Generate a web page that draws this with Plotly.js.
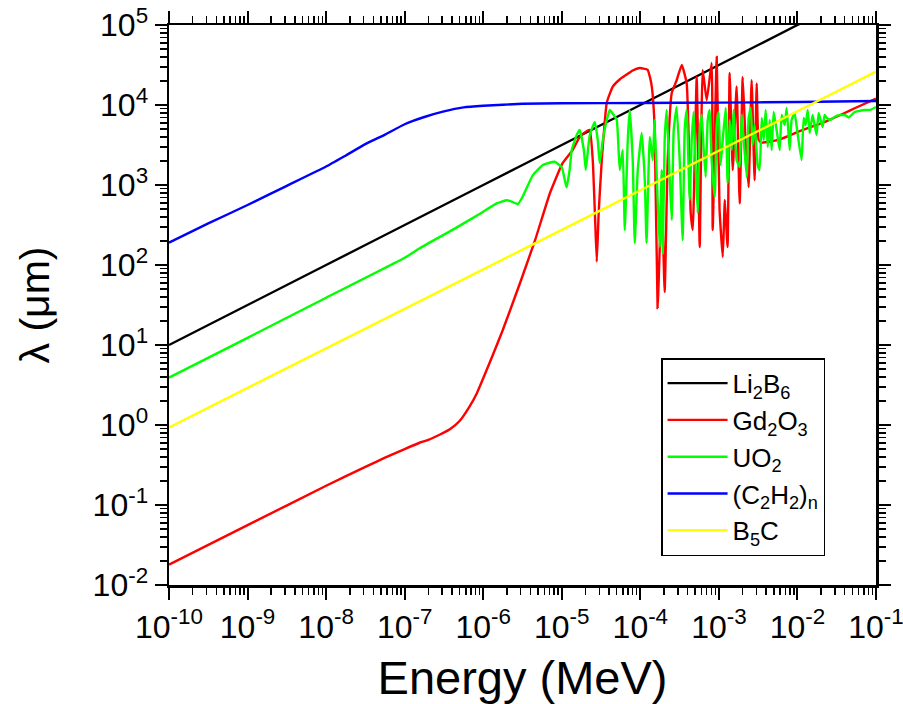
<!DOCTYPE html>
<html>
<head>
<meta charset="utf-8">
<script src="https://cdn.plot.ly/plotly-3.0.1.min.js"></script>
<style>html,body{margin:0;padding:0;background:#fff;}#chart{width:903px;height:704px;}</style>
</head>
<body>
<div id="chart"></div>
<script>
// ---- data (Energy in MeV, lambda in micrometres) ----
const seriesNames = ['Li<sub>2</sub>B<sub>6</sub>', 'Gd<sub>2</sub>O<sub>3</sub>', 'UO<sub>2</sub>', '(C<sub>2</sub>H<sub>2</sub>)<sub>n</sub>', 'B<sub>5</sub>C'];
const seriesColors = ['#000000', '#ff0000', '#00ff00', '#0000ff', '#ffff00'];

const li2b6E = [1e-10, 1e-9, 1e-8, 1e-7, 1e-6, 1e-5, 1e-4, 1e-3, 1e-2, 1e-1];
const li2b6L = [10, 31.6, 100, 316, 1000, 3160, 10000, 31600, 100000, 316000];

const gd2o3E = [1e-10, 1e-9, 1e-8, 3.16e-8, 5.62e-8, 1e-7, 1.55e-7, 2.0e-7, 2.82e-7, 3.8e-7, 5.0e-7, 6.6e-7, 8.3e-7, 1.2e-6, 1.78e-6, 2.95e-6, 4.57e-6, 7.08e-6, 1.02e-5, 1.38e-5,
  1.69e-5, 2.0e-5, 2.27e-5, 2.48e-5, 2.65e-5, 2.79e-5, 2.95e-5, 3.23e-5, 3.74e-5, 4.46e-5, 5.5e-5, 6.71e-5, 8.0e-5, 9.82e-5, 1.1e-4, 1.24e-4, 1.33e-4, 1.40e-4, 1.52e-4, 1.66e-4, 1.87e-4, 2.04e-4, 2.23e-4,
  2.51e-4, 2.90e-4, 3.37e-4, 3.89e-4, 4.38e-4, 4.65e-4, 5.22e-4, 5.70e-4, 6.22e-4, 7.0e-4, 8.09e-4, 8.34e-4, 9.38e-4, 1.02e-3, 1.12e-3, 1.19e-3,
  1.29e-3, 1.37e-3, 1.50e-3, 1.68e-3, 1.84e-3, 2.01e-3, 2.2e-3, 2.39e-3, 2.61e-3, 2.85e-3, 3.03e-3, 3.21e-3, 3.5e-3, 5.94e-3, 1.07e-2, 2.36e-2,
  3.99e-2, 5.35e-2, 1e-1];
const gd2o3L = [0.018, 0.056, 0.174, 0.30, 0.39, 0.50, 0.60, 0.65, 0.76, 0.89, 1.12, 1.66, 2.5, 5.9, 15.5, 60, 204, 794, 1860, 2750,
  3980, 4600, 4870, 2050, 400, 110, 450, 2050, 10700, 17000, 21000, 24000, 27000, 29000, 28500, 27500, 22000, 17000, 5370, 29, 794, 46, 2050,
  14100, 20400, 31600, 18600, 447, 274, 22400, 168, 27500, 11500, 33500, 274, 40000, 490, 126, 649,
  168, 25100, 1540, 17000, 589, 22400, 3000, 944, 20400, 1150, 18600, 3650, 3390, 3700, 4700, 6300,
  7940, 9100, 12000];

const uo2E = [1e-10, 1e-9, 1e-8, 1e-7, 1.55e-7, 4.07e-7, 9.1e-7, 1.48e-6, 2.0e-6, 2.34e-6, 2.75e-6, 3.16e-6, 4.27e-6, 5.75e-6, 8.1e-6, 1.0e-5, 1.15e-5, 1.26e-5,
  1.34e-5, 1.55e-5, 1.69e-5, 1.91e-5, 2.02e-5, 2.27e-5, 2.63e-5, 2.87e-5, 3.04e-5, 3.33e-5, 3.74e-5, 4.08e-5, 4.59e-5, 5.01e-5, 5.47e-5, 5.97e-5,
  6.34e-5, 6.92e-5, 7.33e-5, 8.00e-5, 8.49e-5, 9.27e-5, 1.04e-4, 1.14e-4, 1.20e-4, 1.32e-4, 1.44e-4, 1.52e-4, 1.66e-4, 1.77e-4, 1.87e-4, 1.93e-4,
  2.04e-4, 2.17e-4, 2.37e-4, 2.51e-4, 2.66e-4, 2.90e-4, 3.17e-4, 3.46e-4, 3.67e-4, 3.89e-4, 4.25e-4, 4.51e-4, 4.78e-4, 5.07e-4, 5.37e-4, 5.70e-4,
  6.04e-4, 6.41e-4, 6.79e-4, 7.21e-4, 7.64e-4, 8.09e-4, 8.85e-4, 9.38e-4, 9.93e-4, 1.05e-3, 1.12e-3, 1.22e-3, 1.29e-3, 1.37e-3, 1.46e-3, 1.54e-3,
  1.68e-3, 1.84e-3, 1.95e-3, 2.07e-3, 2.26e-3, 2.39e-3, 2.54e-3, 2.69e-3, 2.85e-3, 3.12e-3, 3.30e-3, 3.51e-3, 3.72e-3, 3.94e-3, 4.18e-3, 4.43e-3,
  4.70e-3, 4.98e-3, 5.43e-3, 5.94e-3, 6.30e-3, 6.87e-3, 7.29e-3, 7.96e-3, 8.43e-3, 9.20e-3, 1.01e-2, 1.13e-2, 1.20e-2, 1.27e-2, 1.35e-2, 1.43e-2,
  1.56e-2, 1.75e-2, 1.86e-2, 2.09e-2, 2.22e-2, 2.36e-2, 2.6e-2, 2.97e-2, 3.3e-2, 3.99e-2, 4.5e-2, 5.35e-2, 6.0e-2, 7.16e-2, 8.5e-2, 1e-1];
const uo2L = [3.9, 12.3, 39, 123, 162, 275, 437, 589, 646, 617, 575, 708, 1320, 1780, 1950, 1660, 933, 1550,
  2740, 4220, 4870, 2740, 1540, 4220, 6130, 3650, 1880, 3650, 6490, 8660, 7500, 6490, 1540, 2740,
  274, 3650, 8660, 2050, 188, 1540, 4470, 1150, 188, 3980, 2050, 6490, 649, 168, 1540, 141,
  3650, 8660, 1150, 365, 4870, 9440, 2050, 205, 4870, 8660, 649, 3650, 8180, 1540, 447, 4870,
  7500, 2740, 1260, 6490, 8660, 2050, 708, 5620, 8180, 1780, 3650, 9170, 1060, 6490, 2740, 8660,
  2050, 1680, 7500, 3650, 1260, 6880, 9170, 3160, 5620, 1780, 1540, 6880, 3650, 8660, 2990, 6490,
  2740, 8180, 4870, 2740, 7500, 5620, 9170, 2740, 6490, 7940, 4220, 2050, 6880, 5620, 8660, 4470,
  7500, 4220, 7940, 5310, 7500, 6880, 6500, 7080, 7400, 7500, 7000, 8180, 8400, 8660, 8700, 9440];

const c2h2E = [1e-10, 3.16e-10, 1e-9, 3.16e-9, 1e-8, 1.78e-8, 3.16e-8, 5.62e-8, 1e-7, 1.78e-7, 3.16e-7, 5.62e-7, 1e-6, 3.16e-6, 1e-5, 1e-4, 1e-3, 1e-2, 1e-1];
const c2h2L = [190, 331, 562, 977, 1700, 2340, 3240, 4270, 5750, 7080, 8320, 9330, 9770, 10350, 10500, 10600, 10700, 10900, 11200];

const b5cE = [1e-10, 1e-9, 1e-8, 1e-7, 1e-6, 1e-5, 1e-4, 1e-3, 1e-2, 1e-1];
const b5cL = [0.93, 2.91, 9.08, 28.3, 88.3, 275, 859, 2680, 8360, 26100];

const xTickVals = [1e-10, 1e-9, 1e-8, 1e-7, 1e-6, 1e-5, 1e-4, 1e-3, 1e-2, 1e-1];
const xTickText = ['10<sup>-10</sup>', '10<sup>-9</sup>', '10<sup>-8</sup>', '10<sup>-7</sup>', '10<sup>-6</sup>', '10<sup>-5</sup>', '10<sup>-4</sup>', '10<sup>-3</sup>', '10<sup>-2</sup>', '10<sup>-1</sup>'];
const yTickVals = [1e-2, 1e-1, 1e0, 1e1, 1e2, 1e3, 1e4, 1e5];
const yTickText = ['10<sup>-2</sup>', '10<sup>-1</sup>', '10<sup>0</sup>', '10<sup>1</sup>', '10<sup>2</sup>', '10<sup>3</sup>', '10<sup>4</sup>', '10<sup>5</sup>'];

// ---- traces ----
const xs = [li2b6E, gd2o3E, uo2E, c2h2E, b5cE];
const ys = [li2b6L, gd2o3L, uo2L, c2h2L, b5cL];
const traces = xs.map((x, i) => ({
  type: 'scatter', mode: 'lines', x: x, y: ys[i], name: seriesNames[i],
  line: {color: seriesColors[i], width: 2.4, shape: 'spline', smoothing: 0.4}
}));

const FONT = 'Liberation Sans, Arial, sans-serif';
const axisCommon = {
  type: 'log', showgrid: false, zeroline: false, tickmode: 'array', tickangle: 0,
  showline: true, linecolor: '#000', linewidth: 2.5, mirror: 'ticks',
  ticks: 'outside', ticklen: 12, tickwidth: 2, tickcolor: '#000',
  minor: {ticks: 'outside', ticklen: 7, tickwidth: 1.5, tickcolor: '#000', dtick: 'D1', showgrid: false},
  tickfont: {family: FONT, size: 32, color: '#000'},
  ticklabeloverflow: 'allow'
};

const layout = {
  width: 903, height: 704,
  margin: {l: 169, r: 27, t: 25, b: 119},
  paper_bgcolor: '#fff', plot_bgcolor: '#fff',
  showlegend: true,
  xaxis: Object.assign({}, axisCommon, {
    range: [-10, -1], tickvals: xTickVals, ticktext: xTickText,
    title: {text: 'Energy (MeV)', font: {family: FONT, size: 47, color: '#000'}, standoff: 30}
  }),
  yaxis: Object.assign({}, axisCommon, {
    range: [-2, 5], tickvals: yTickVals, ticktext: yTickText,
    title: {text: 'λ (μm)', font: {family: FONT, size: 41, color: '#000'}, standoff: 30}
  }),
  legend: {
    x: 0.696, y: 0.405, xanchor: 'left', yanchor: 'top',
    bgcolor: '#fff', bordercolor: '#000', borderwidth: 1.5,
    font: {family: FONT, size: 26, color: '#000'},
    itemwidth: 60, tracegroupgap: 0
  }
};

Plotly.newPlot('chart', traces, layout, {staticPlot: true, displayModeBar: false});
</script>
</body>
</html>
